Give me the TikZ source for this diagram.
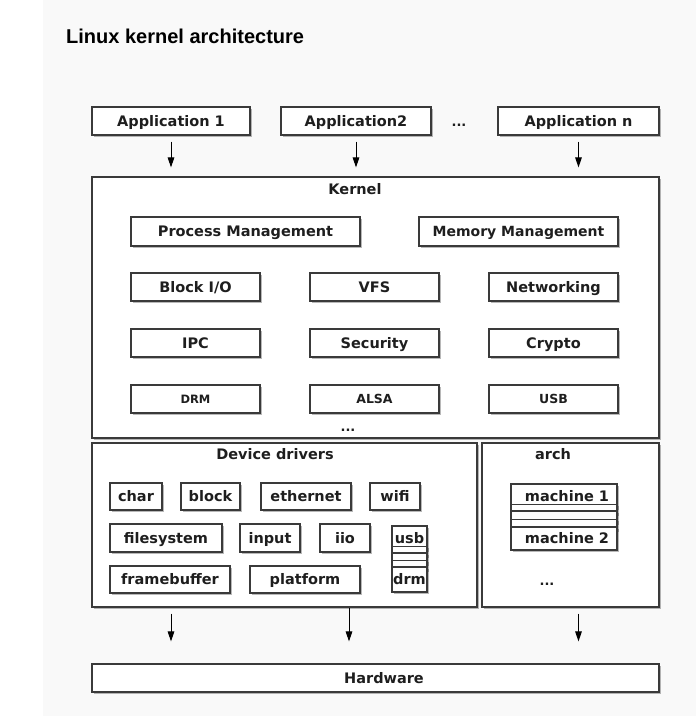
\documentclass[tikz,border=0pt]{standalone}
\usepackage{fontspec}
\setmainfont{DejaVu Sans}
\newfontfamily\titlefont{Liberation Sans}
\usetikzlibrary{shadows,arrows.meta}
\definecolor{linec}{HTML}{3A3A3A}
\definecolor{textc}{HTML}{1E1E1E}
\definecolor{pagebg}{HTML}{F9F9F9}
\tikzset{
  box/.style={draw=linec, line width=1.1pt, fill=white, inner sep=0pt,
    font=\bfseries\fontsize{14.5}{16}\selectfont, text=textc,
    text height=10.6pt, text depth=0pt,
    drop shadow={shadow xshift=1.6pt, shadow yshift=-1.6pt, fill=black, opacity=0.28}},
  smallfont/.style={font=\bfseries\fontsize{12.5}{14}\selectfont, text height=9.1pt},
  tinyfont/.style={font=\bfseries\fontsize{11.5}{13}\selectfont, text height=8.4pt},
  midfont/.style={font=\bfseries\fontsize{14}{16}\selectfont, text height=10.2pt},
  lbl/.style={font=\bfseries\fontsize{14.5}{16}\selectfont, text=textc, inner sep=0pt,
    text height=10.6pt, text depth=0pt},
  dots/.style={font=\bfseries\fontsize{13}{15}\selectfont, text=textc, inner sep=0pt, anchor=base},
  titlestyle/.style={font=\titlefont\bfseries\fontsize{20}{23}\selectfont, text=black, inner sep=0pt},
  arr/.style={draw=black, line width=1pt, -{Triangle[length=10pt,width=6.5pt]}}
}
\newcommand\mybox[7][]{\node[box,#1,minimum width={(#5-#3)*1pt},minimum height={(#6-#4)*1pt}] (#2) at ({(#3+#5)/2},{(#4+#6)/2}) {#7};}
\begin{document}
\begin{tikzpicture}[x=1pt,y=-1pt]
\useasboundingbox (0,0) rectangle (696,716);
\fill[pagebg] (43,0) rectangle (696,716);
\node[titlestyle, anchor=base west] (title) at (66,43) {Linux kernel architecture};

% applications
\mybox{app1}{92}{107}{250}{135}{Application 1}
\mybox{app2}{281}{107}{431}{135}{Application2}
\node[dots] (appdots) at (459,126) {...};
\mybox{appn}{498}{107}{659}{135}{Application n}

% kernel
\mybox{kernel}{92}{177}{659}{438}{}
\node[lbl] (kernellbl) at (355,189) {Kernel};
\mybox{pm}{131}{217}{360}{246}{Process Management}
\mybox[midfont]{mm}{419}{217}{618}{246}{Memory Management}
\mybox{bio}{131}{273}{260}{301}{Block I/O}
\mybox{vfs}{310}{273}{439}{301}{VFS}
\mybox{net}{489}{273}{618}{301}{Networking}
\mybox{ipc}{131}{329}{260}{357}{IPC}
\mybox{sec}{310}{329}{439}{357}{Security}
\mybox{cry}{489}{329}{618}{357}{Crypto}
\mybox[tinyfont]{kdrm}{131}{385}{260}{413}{DRM}
\mybox[smallfont]{alsa}{310}{385}{439}{413}{ALSA}
\mybox[smallfont]{kusb}{489}{385}{618}{413}{USB}
\node[dots] (kdots) at (348,431) {...};

% device drivers
\mybox{dd}{92}{443}{477}{607}{}
\node[lbl] (ddlbl) at (275,454) {Device drivers};
\mybox{char}{110}{483}{162}{510}{char}
\mybox{block}{181}{483}{240}{510}{block}
\mybox{eth}{261}{483}{351}{510}{ethernet}
\mybox{wifi}{370}{483}{420}{510}{wifi}
\mybox{fs}{110}{524}{222}{552}{filesystem}
\mybox{input}{240}{524}{300}{552}{input}
\mybox{iio}{320}{524}{370}{552}{iio}
\mybox{usb}{392}{526}{427}{550}{usb}
\mybox{usbs1}{392}{550}{427}{553}{}
\mybox{usbgap}{392}{553}{427}{564}{}
\mybox{usbs2}{392}{564}{427}{567}{}
\mybox{drm}{392}{567}{427}{592}{drm}
\mybox{fb}{110}{566}{230}{593}{framebuffer}
\mybox{plat}{250}{566}{360}{593}{platform}

% arch
\mybox{arch}{482}{443}{659}{607}{}
\node[lbl] (archlbl) at (553,454) {arch};
\mybox{m1}{511}{484}{617}{508}{\hspace{6pt}machine 1}
\mybox{ms1}{511}{508}{617}{511}{}
\mybox{msgap}{511}{511}{617}{523}{}
\mybox{ms2}{511}{523}{617}{527}{}
\mybox{m2}{511}{527}{617}{550}{\hspace{6pt}machine 2}
\node[dots] (archdots) at (547,585) {...};

% hardware
\mybox{hw}{92}{664}{659}{692}{\hspace{17pt}Hardware}

% arrows
\draw[arr, shorten <=6pt, shorten >=9pt] (app1.south) -- (app1.south |- kernel.north);
\draw[arr, shorten <=6pt, shorten >=9pt] (app2.south) -- (app2.south |- kernel.north);
\draw[arr, shorten <=6pt, shorten >=9pt] (appn.south) -- (appn.south |- kernel.north);
\coordinate (mid) at (349,607);
\draw[arr, shorten <=6pt, shorten >=22pt] (dd.south -| app1) -- (hw.north -| app1);
\draw[arr, shorten >=22pt] (dd.south -| mid) -- (hw.north -| mid);
\draw[arr, shorten <=6pt, shorten >=22pt] (arch.south -| appn) -- (hw.north -| appn);
\end{tikzpicture}
\end{document}
